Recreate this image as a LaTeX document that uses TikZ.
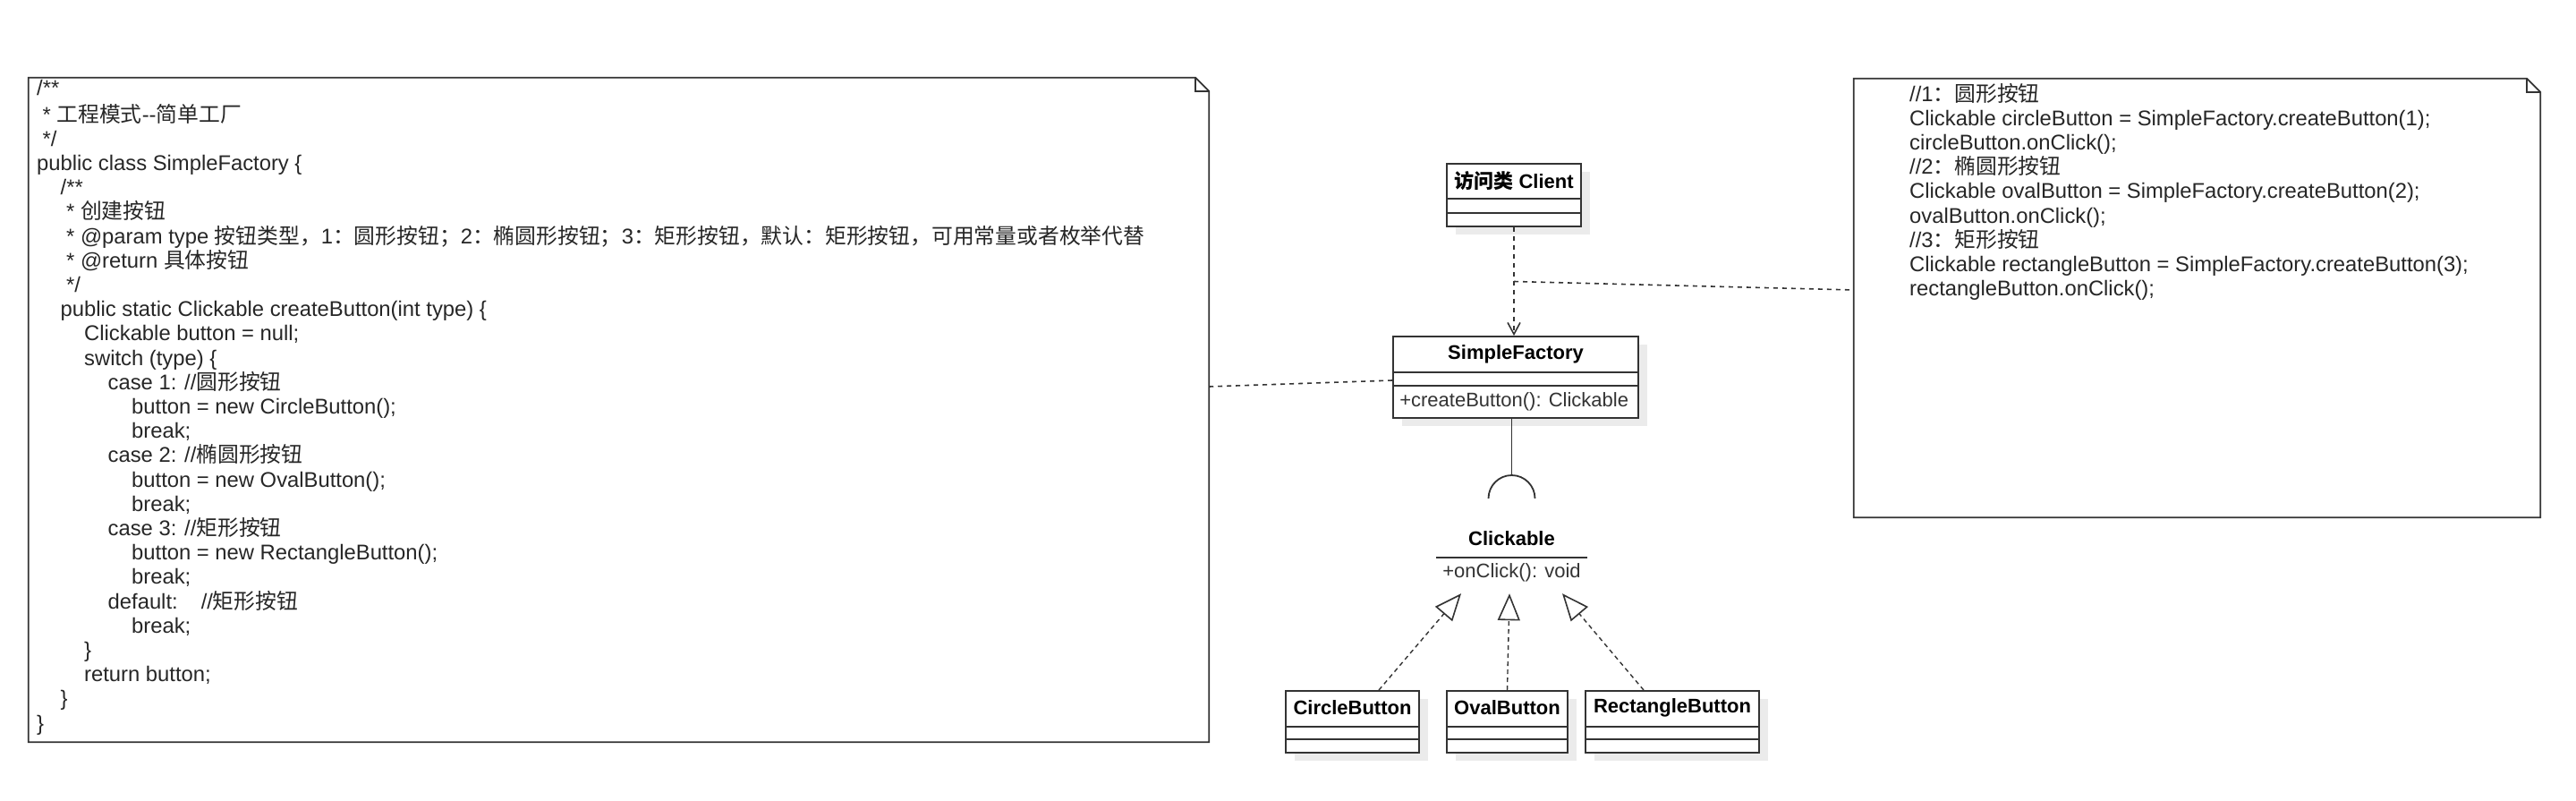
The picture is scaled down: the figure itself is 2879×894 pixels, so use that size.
\documentclass[tikz,border=0pt]{standalone}
\usepackage{fontspec}
\setmainfont{Liberation Sans}
\newfontfamily\cjk{Noto Sans CJK SC}
\usetikzlibrary{arrows.meta,shadows,calc}
\newcommand\zh[1]{{\cjk #1}}
\begin{document}
\begin{tikzpicture}[x=1pt,y=-1pt,
  line/.style={draw=black!80, line width=1.8pt},
  dep/.style={draw=black!80, line width=1.6pt, dash pattern=on 5pt off 5pt},
  real/.style={draw=black!80, line width=1.4pt, dash pattern=on 5pt off 4pt,
    -{Triangle[open, length=30pt, width=25pt, fill=white, line width=1.6pt]}},
  notearea/.style={inner sep=0pt},
  notetext/.style={inner sep=0pt, align=left, text=black!85,
    font={\fontsize{23.8}{27.2}\selectfont}},
  cls/.style={draw=black!80, line width=1.8pt, fill=white, inner sep=0pt,
    drop shadow={shadow xshift=10pt, shadow yshift=-9pt, fill=black!8, opacity=1}},
  ttl/.style={inner sep=0pt, font={\fontsize{22}{26}\selectfont\bfseries}, text=black},
  mth/.style={inner sep=0pt, font={\fontsize{22}{26}\selectfont}, text=black!80}
]
\useasboundingbox (0,0) rectangle (2879,894);

% ---------- left note ----------
\node[notearea, minimum width=1319pt, minimum height=742pt] (ln) at (691.5,458) {};
\draw[line] (ln.north west) -- ([xshift=-15pt]ln.north east) -- ([yshift=-15pt]ln.north east)
  -- (ln.south east) -- (ln.south west) -- cycle;
\draw[line] ([xshift=-15pt]ln.north east) -- ([xshift=-15pt,yshift=-15pt]ln.north east)
  -- ([yshift=-15pt]ln.north east);
\node[notetext, anchor=west] (lt) at (41,456) {\strut/**\\
\hspace*{6.5pt}* \zh{工程模式}-{}-\zh{简单工厂}\\
\hspace*{6.5pt}*/\\
public class SimpleFactory \{\\
\hspace*{26.5pt}/**\\
\hspace*{33pt}* \zh{创建按钮}\\
\hspace*{33pt}* @param type \zh{按钮类型，}1\zh{：圆形按钮；}2\zh{：椭圆形按钮；}3\zh{：矩形按钮，默认：矩形按钮，可用常量或者枚举代替}\\
\hspace*{33pt}* @return \zh{具体按钮}\\
\hspace*{33pt}*/\\
\hspace*{26.5pt}public static Clickable createButton(int type) \{\\
\hspace*{53pt}Clickable button = null;\\
\hspace*{53pt}switch (type) \{\\
\hspace*{79.5pt}case 1: //\zh{圆形按钮}\\
\hspace*{106pt}button = new CircleButton();\\
\hspace*{106pt}break;\\
\hspace*{79.5pt}case 2: //\zh{椭圆形按钮}\\
\hspace*{106pt}button = new OvalButton();\\
\hspace*{106pt}break;\\
\hspace*{79.5pt}case 3: //\zh{矩形按钮}\\
\hspace*{106pt}button = new RectangleButton();\\
\hspace*{106pt}break;\\
\hspace*{79.5pt}default:\hspace{26pt}//\zh{矩形按钮}\\
\hspace*{106pt}break;\\
\hspace*{53pt}\}\\
\hspace*{53pt}return button;\\
\hspace*{26.5pt}\}\\
\}\strut};

% ---------- right note ----------
\node[notearea, minimum width=767pt, minimum height=490pt] (rn) at (2455.5,333) {};
\draw[line] (rn.north west) -- ([xshift=-15pt]rn.north east) -- ([yshift=-15pt]rn.north east)
  -- (rn.south east) -- (rn.south west) -- cycle;
\draw[line] ([xshift=-15pt]rn.north east) -- ([xshift=-15pt,yshift=-15pt]rn.north east)
  -- ([yshift=-15pt]rn.north east);
\node[notetext, anchor=west] (rt) at (2134,216) {\strut//1\zh{：圆形按钮}\\
Clickable circleButton = SimpleFactory.createButton(1);\\
circleButton.onClick();\\
//2\zh{：椭圆形按钮}\\
Clickable ovalButton = SimpleFactory.createButton(2);\\
ovalButton.onClick();\\
//3\zh{：矩形按钮}\\
Clickable rectangleButton = SimpleFactory.createButton(3);\\
rectangleButton.onClick();\strut};

% ---------- Client ----------
\node[cls, minimum width=150pt, minimum height=70pt] (cl) at (1692,218) {};
\draw[line] ([yshift=-40pt]cl.north west) -- ([yshift=-40pt]cl.north east);
\draw[line] ([yshift=-56pt]cl.north west) -- ([yshift=-56pt]cl.north east);
\node[ttl] (clt) at ([yshift=-20pt]cl.north) {\zh{访问类} Client};

% ---------- SimpleFactory ----------
\node[cls, minimum width=274pt, minimum height=91pt] (sf) at (1694,421.5) {};
\draw[line] ([yshift=-41pt]sf.north west) -- ([yshift=-41pt]sf.north east);
\draw[line] ([yshift=-56pt]sf.north west) -- ([yshift=-56pt]sf.north east);
\node[ttl] (sft) at ([yshift=-21pt]sf.north) {SimpleFactory};
\node[mth, anchor=west] (sfm) at ([xshift=8pt,yshift=-73.5pt]sf.north west) {+createButton(): Clickable};

% ---------- Clickable interface ----------
\node[inner sep=0pt, minimum width=169pt, minimum height=80pt] (ck) at (1689.5,623) {};
\draw[line] (ck.west) -- (ck.east);
\node[ttl] (ckt) at ([yshift=21pt]ck.center) {Clickable};
\node[mth] (ckm) at ([yshift=-17pt]ck.center) {+onClick(): void};

% ---------- implementations ----------
\node[cls, minimum width=149pt, minimum height=69pt] (cb) at (1511.5,806.5) {};
\draw[line] ([yshift=-41pt]cb.north west) -- ([yshift=-41pt]cb.north east);
\draw[line] ([yshift=-55pt]cb.north west) -- ([yshift=-55pt]cb.north east);
\node[ttl] (cbt) at ([yshift=-20pt]cb.north) {CircleButton};

\node[cls, minimum width=135pt, minimum height=69pt] (ob) at (1684.5,806.5) {};
\draw[line] ([yshift=-41pt]ob.north west) -- ([yshift=-41pt]ob.north east);
\draw[line] ([yshift=-55pt]ob.north west) -- ([yshift=-55pt]ob.north east);
\node[ttl] (obt) at ([yshift=-20pt]ob.north) {OvalButton};

\node[cls, minimum width=194pt, minimum height=69pt] (rb) at (1869,806.5) {};
\draw[line] ([yshift=-41pt]rb.north west) -- ([yshift=-41pt]rb.north east);
\draw[line] ([yshift=-55pt]rb.north west) -- ([yshift=-55pt]rb.north east);
\node[ttl] (rbt) at ([yshift=-20pt]rb.north) {RectangleButton};

% ---------- connectors ----------
\draw[dep, -{Straight Barb[length=13pt, width=14pt, line width=1.6pt]}] (cl.south) -- (cl.south |- sf.north);
\coordinate (mid) at ($(cl.south)!0.5!(cl.south |- sf.north)$);
\draw[dep] (mid) -- ([yshift=9pt]rn.west);
\draw[dep] ([yshift=-3.5pt]sf.west) -- ([yshift=26pt]ln.east);

\coordinate (sock) at (1689.5,557);
\draw[line] (sf.south -| sock) -- ([yshift=26pt]sock);
\draw[line] ([xshift=-26pt]sock) arc[start angle=180, end angle=360, radius=26];

\draw[real] ([xshift=29.5pt]cb.north) -- ([xshift=-56.5pt]ck.south);
\draw[real] (ob.north) -- ([xshift=-2.5pt]ck.south);
\draw[real] ([xshift=-32pt]rb.north) -- ([xshift=56.5pt]ck.south);
\end{tikzpicture}
\end{document}
